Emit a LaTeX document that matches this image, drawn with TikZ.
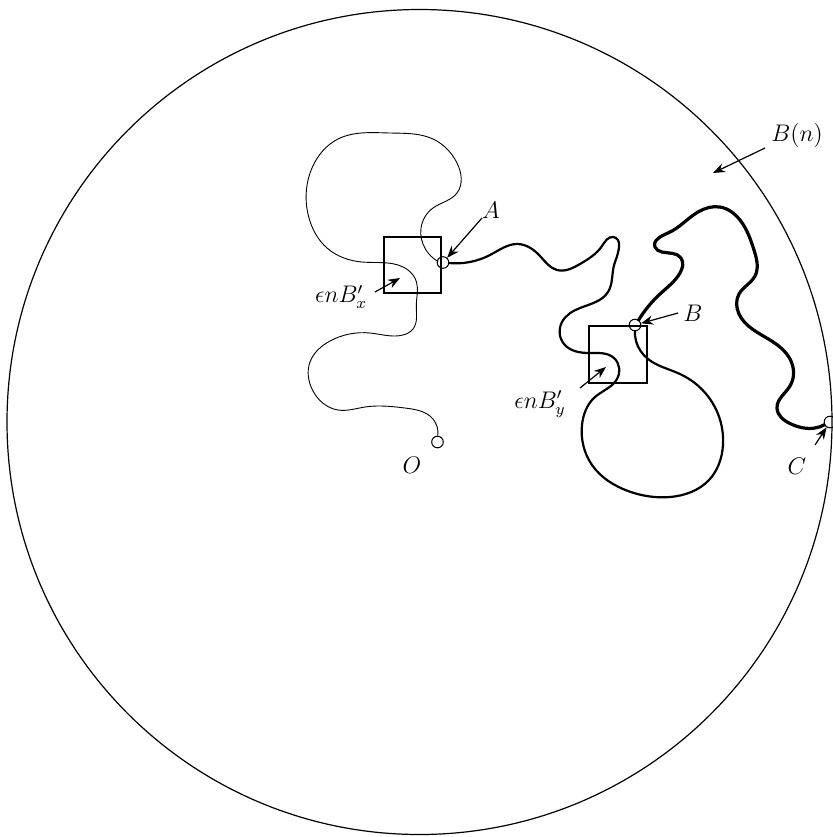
\documentclass[tikz,border=0pt]{standalone}
\usetikzlibrary{arrows.meta,hobby}
\tikzset{
  pt/.style={draw,circle,inner sep=0pt,minimum size=5.8pt,line width=0.5pt},
  lbl/.style={inner sep=0pt,font=\fontsize{12}{14}\selectfont},
  arr/.style={-{Stealth[length=6pt,width=4.6pt]},line width=0.6pt},
  thinpath/.style={line width=0.45pt,use Hobby shortcut},
  medpath/.style={line width=1.1pt,use Hobby shortcut},
  heavypath/.style={line width=1.6pt,use Hobby shortcut},
  boxst/.style={line width=0.65pt},
}
\begin{document}
\begin{tikzpicture}[x=0.5pt,y=-0.5pt]
\useasboundingbox (0,0) rectangle (832,837);
% big ball
\draw[line width=0.6pt] (419.5,422) circle[radius=412.5];
% boxes
\draw[boxst] (384,237) rectangle (441,293);
\draw[boxst] (589,326) rectangle (647,383);
% marked points
\node[pt] (O) at (437.5,442) {};
\node[pt] (A) at (443,262.5) {};
\node[pt] (B) at (635,325) {};
\node[pt] (C) at (830,422) {};
% thin path O -> A
\draw[thinpath] (437.7,436) .. (433,419) .. (405,408) .. (365,407) .. (338,410) .. (313,391)
 .. (310,362) .. (330,341) .. (370,333) .. (403,335) .. (413,329) .. (416.3,305)
 .. (416.5,282) .. (408,270) .. (362,262) .. (327,248) .. (309,218) .. (312,168) .. (338,139) .. (390,133)
 .. (433,139) .. (457,163) .. (457,193) .. (433,208) .. (421,228) .. (426,250) .. (438,261.5);
% thick path A -> B
\draw[medpath] (448.5,263) .. (490,255) .. (518,244) .. (540,256) .. (557,270) .. (580,264) .. (602,246)
 .. (613,237) .. (615,262) .. (608,292) .. (580,308) .. (562,322) .. (564,344) .. (590,353)
 .. (614,358) .. (617,379) .. (595,397) .. (582,425) .. (592,465) .. (628,491) .. (670,497)
 .. (709,480) .. (723,445) .. (712,402) .. (680,374) .. (648,359) .. (636,341) .. (635,330.5);
% heavier path B -> C
\draw[heavypath] (638,321) .. (660,294) .. (680,273) .. (681,258) .. (662,252) .. (655,247) .. (668,233)
 .. (698,212) .. (720,207) .. (740,220) .. (754,250) .. (755,276) .. (739,294) .. (739,314) .. (770,340)
 .. (791,361) .. (790,386) .. (777,408) .. (791,424) .. (815,428) .. (825,424.5);
% labels
\node[lbl] (lA) at (491,210) {$A$};
\node[lbl] (lB) at (693,313) {$B$};
\node[lbl] (lC) at (797,466) {$C$};
\node[lbl] (lO) at (412,465) {$O$};
\node[lbl] (lBn) at (797,135) {$B(n)$};
\node[lbl] (lBx) at (341,297) {$\epsilon n B'_x$};
\node[lbl] (lBy) at (540,404) {$\epsilon n B'_y$};
% arrow anchors
\coordinate (sA) at (482,218);
\coordinate (sB) at (678,313);
\coordinate (sC) at (815,445);
\coordinate (sBn) at (765,148);
\coordinate (tBn) at (713,173);
\coordinate (sBx) at (375,292);
\coordinate (tBx) at (400,278);
\coordinate (sBy) at (580,388);
\coordinate (tBy) at (606,367);
\draw[arr] (sA) -- (A);
\draw[arr] (sB) -- (B);
\draw[arr] (sC) -- (C);
\draw[arr] (sBn) -- (tBn);
\draw[arr] (sBx) -- (tBx);
\draw[arr] (sBy) -- (tBy);
\end{tikzpicture}
\end{document}
